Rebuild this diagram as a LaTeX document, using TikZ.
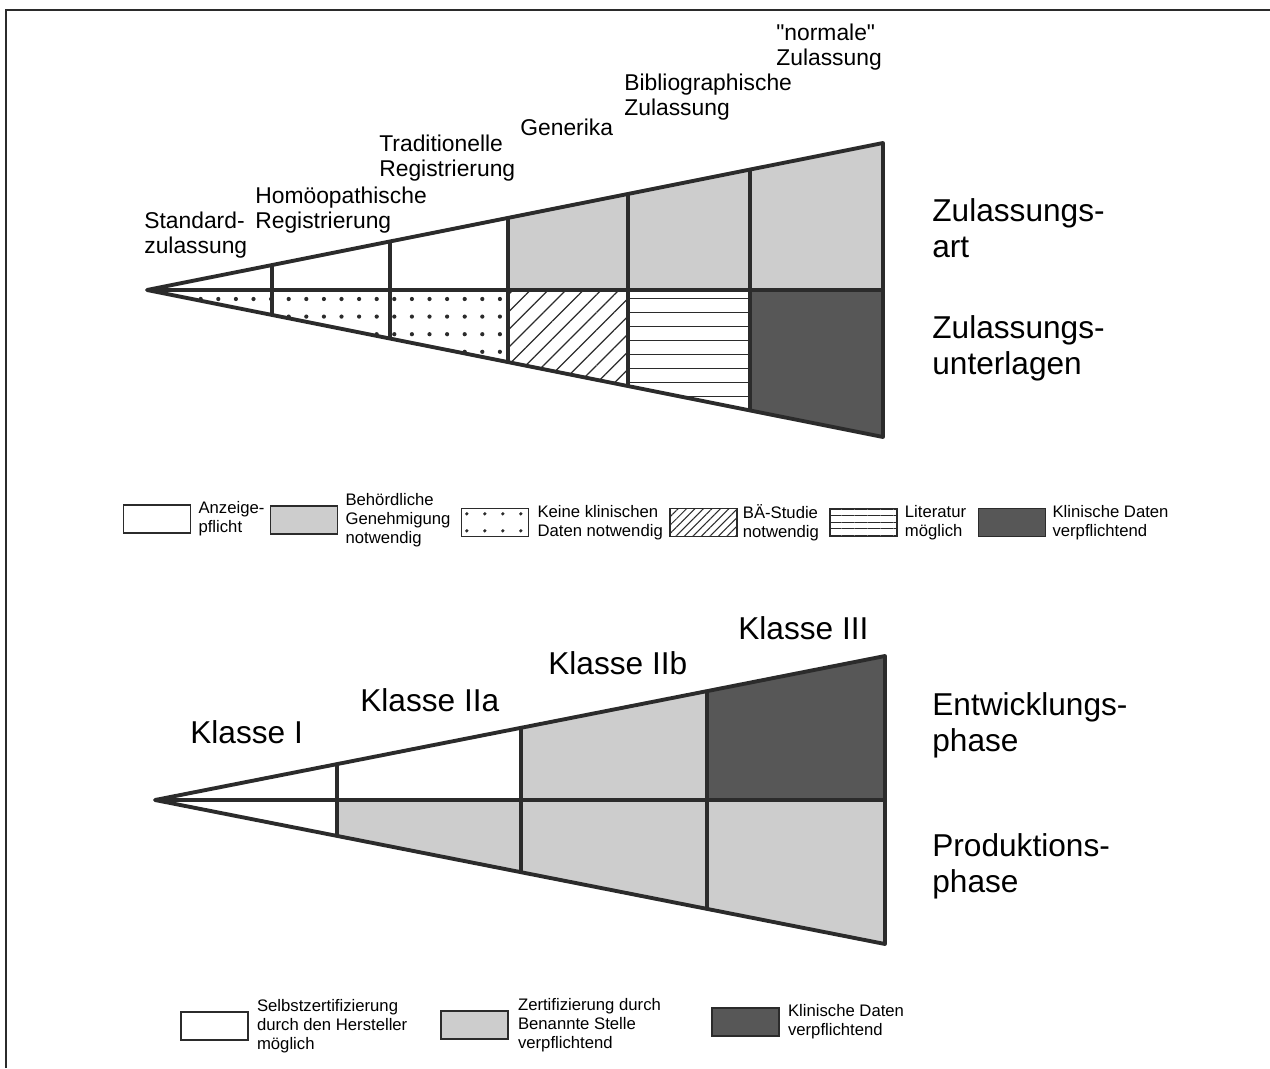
\documentclass[tikz,border=0pt]{standalone}
\usepackage{fontspec}
\setmainfont{Liberation Sans}
\newfontfamily\rawsans{Liberation Sans}
\usetikzlibrary{positioning,calc,patterns.meta}
\definecolor{ink}{HTML}{2B2B2B}
\definecolor{lgray}{HTML}{CDCDCD}
\definecolor{dgray}{HTML}{575757}

\begin{document}
\begin{tikzpicture}[
    x=0.02cm, y=-0.02cm,
    edge/.style={draw=ink, line width=2.2pt, line join=round},
    toplbl/.style={inner sep=0pt, anchor=west, align=left, font=\fontsize{13}{14.5}\selectfont},
    big/.style={inner sep=0pt, anchor=west, align=left, font=\fontsize{18}{20.5}\selectfont},
    legbox/.style={rectangle, draw=ink, line width=0.8pt, minimum width=1.34cm,
                   minimum height=0.56cm, inner sep=0pt},
    legtxt/.style={inner sep=0pt, align=left, font=\fontsize{9.5}{10.8}\selectfont},
    dot/.style={fill=ink},
    thinline/.style={draw=ink, line width=0.7pt},
    diagfill/.style={pattern={Lines[angle=45, distance=0.25cm, line width=0.7pt]}, pattern color=ink},
    diagleg/.style={pattern={Lines[angle=45, distance=0.12cm, line width=0.6pt]}, pattern color=ink},
    hlineleg/.style={pattern={Lines[angle=0, distance=0.13cm, line width=0.6pt]}, pattern color=ink}
]
  \useasboundingbox (0,0) rectangle (1270,1068);

  % Frame
  \draw[draw=ink, line width=1.6pt] (6,1068) -- (6,10) -- (1270,10);

  % Zulassung wedge
  \coordinate (zA) at (147,290);
  \coordinate (zT) at (883,143);
  \coordinate (zB) at (883,437);
  \coordinate (zM) at (883,290);
  \foreach \x/\n in {272/a,390/b,508/c,628/d,750/e} {
    \coordinate (zT\n) at ($(zA)!{(\x-147)/736}!(zT)$);
    \coordinate (zB\n) at ($(zA)!{(\x-147)/736}!(zB)$);
    \coordinate (zM\n) at (\x,290);
  }
  \fill[lgray] (zTc) -- (zT) -- (zM) -- (zMc) -- cycle;
  \begin{scope}
    \clip (zA) -- (zMc) -- (zBc) -- cycle;
    \foreach \i in {0,...,21}
      \foreach \j in {0,...,3}
        \fill[dot] (165.5+17.6*\i, 299+17.6*\j) circle (1.2pt);
  \end{scope}
  \fill[diagfill] (zMc) -- (zMd) -- (zBd) -- (zBc) -- cycle;
  \begin{scope}
    \clip (zMd) -- (zMe) -- (zBe) -- (zBd) -- cycle;
    \foreach \j in {0,...,8}
      \draw[thinline] (628,298.3+14*\j) -- (750,298.3+14*\j);
  \end{scope}
  \fill[dgray] (zMe) -- (zM) -- (zB) -- (zBe) -- cycle;
  \draw[edge] (zA) -- (zT) -- (zB) -- cycle;
  \draw[edge] (zA) -- (zM);
  \foreach \n in {a,...,e} \draw[edge] (zT\n) -- (zB\n);

  % Labels above
  \node[toplbl] (std) at (144,235) {Standard-\\zulassung};
  \node[toplbl] (hom) at (255,210) {Homöopathische\\Registrierung};
  \node[toplbl] (trad) at (379,158) {Traditionelle\\Registrierung};
  \node[toplbl] (gen) at (520,127) {Generika};
  \node[toplbl] (bib) at (624,97) {Bibliographische\\Zulassung};
  \node[toplbl] (norm) at (776,47) {{\rawsans"normale"}\\Zulassung};

  \node[big] (art) at (932,228) {Zulassungs-\\art};
  \node[big] (unt) at (932,348) {Zulassungs-\\unterlagen};

  % Legend 1
  \node[legbox] (anz) at (157,519) {};
  \node[legtxt, right=0.14cm of anz] (anzT) {Anzeige-\\pflicht};
  \node[legbox, fill=lgray] (beh) at (304,520) {};
  \node[legtxt, right=0.14cm of beh] (behT) {Behördliche\\Genehmigung\\notwendig};
  \node[legbox] (kei) at (495,522.5) {};
  \foreach \i in {0,...,3}
    \foreach \j in {0,1}
      \fill[dot] ($(kei.north west)+(6+18*\i,6+17*\j)$) circle (1pt);
  \node[legtxt, right=0.16cm of kei] (keiT) {Keine klinischen\\Daten notwendig};
  \node[legbox, diagleg] (bae) at (703.5,522.5) {};
  \node[legtxt, right=0.1cm of bae] (baeT) {BÄ-Studie\\notwendig};
  \node[legbox, hlineleg] (lit) at (863.5,522.5) {};
  \node[legtxt, right=0.14cm of lit] (litT) {Literatur\\möglich};
  \node[legbox, fill=dgray] (kli) at (1012,522.5) {};
  \node[legtxt, right=0.12cm of kli] (kliT) {Klinische Daten\\verpflichtend};

  % Medizinprodukt wedge
  \coordinate (mA) at (155,800);
  \coordinate (mT) at (885,656);
  \coordinate (mB) at (885,944);
  \coordinate (mM) at (885,800);
  \foreach \x/\n in {337/a,521/b,707/c} {
    \coordinate (mT\n) at ($(mA)!{(\x-155)/730}!(mT)$);
    \coordinate (mB\n) at ($(mA)!{(\x-155)/730}!(mB)$);
    \coordinate (mM\n) at (\x,800);
  }
  \fill[lgray] (mTb) -- (mTc) -- (mMc) -- (mMb) -- cycle;
  \fill[dgray] (mTc) -- (mT) -- (mM) -- (mMc) -- cycle;
  \fill[lgray] (mMa) -- (mM) -- (mB) -- (mBa) -- cycle;
  \draw[edge] (mA) -- (mT) -- (mB) -- cycle;
  \draw[edge] (mA) -- (mM);
  \foreach \n in {a,b,c} \draw[edge] (mT\n) -- (mB\n);

  \node[big] (k1) at (190,732) {Klasse I};
  \node[big] (k2a) at (360,700) {Klasse IIa};
  \node[big] (k2b) at (548,663) {Klasse IIb};
  \node[big] (k3) at (738,628) {Klasse III};

  \node[big] (ent) at (932,725) {Entwicklungs-\\phase};
  \node[big] (prod) at (932,866) {Produktions-\\phase};

  % Legend 2
  \node[legbox] (sel) at (214.5,1026) {};
  \node[legtxt, right=0.16cm of sel] (selT) {Selbstzertifizierung\\durch den Hersteller\\möglich};
  \node[legbox, fill=lgray] (zer) at (474.5,1025) {};
  \node[legtxt, right=0.18cm of zer] (zerT) {Zertifizierung durch\\Benannte Stelle\\verpflichtend};
  \node[legbox, fill=dgray] (kd) at (745.5,1022) {};
  \node[legtxt, right=0.16cm of kd] (kdT) {Klinische Daten\\verpflichtend};
\end{tikzpicture}
\end{document}
